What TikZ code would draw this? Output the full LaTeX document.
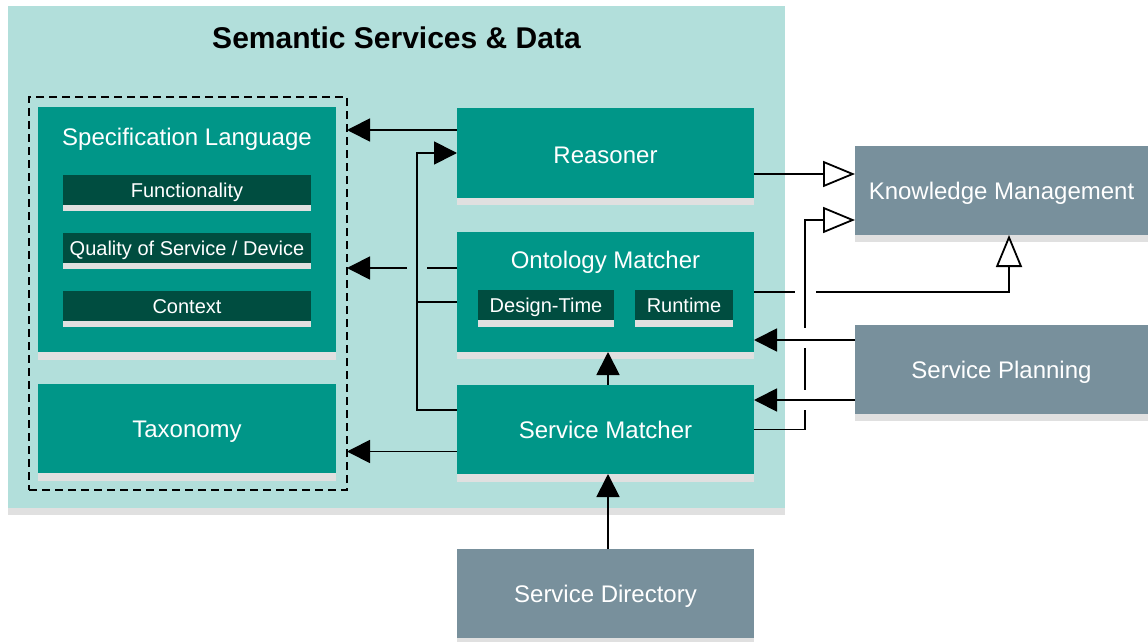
\documentclass[tikz,border=0pt]{standalone}
\usepackage{fontspec}
\setmainfont{Liberation Sans}
\usetikzlibrary{arrows.meta}
\definecolor{bgteal}{HTML}{B2DFDB}
\definecolor{boxteal}{HTML}{009688}
\definecolor{deepgreen}{HTML}{004D40}
\definecolor{slate}{HTML}{78909C}
\definecolor{stripgray}{HTML}{E0E0E0}

\begin{document}
\begin{tikzpicture}[x=1pt,y=-1pt,
  base/.style={inner sep=0pt, outer sep=0pt, text=white, text depth=0pt},
  bigtext/.style={font=\fontsize{24}{28}\selectfont, text height=17.2pt},
  smalltext/.style={font=\fontsize{20}{24}\selectfont, text height=14.3pt},
  tealbox/.style={base, bigtext, fill=boxteal},
  slatebox/.style={base, bigtext, fill=slate},
  subbox/.style={base, smalltext, fill=deepgreen},
  boxtitle/.style={base, bigtext},
  conn/.style={draw=black, line width=1.8pt},
  fa/.style={conn, -{Triangle[length=23pt,width=23pt]}},
  oa/.style={conn, -{Triangle[open,length=32pt,width=26pt,fill=white]}},
]
\useasboundingbox (0,0) rectangle (1148,642);

% container with its shadow strip
\fill[stripgray] (8,508) rectangle (785,515);
\node[inner sep=0pt, outer sep=0pt, fill=bgteal, minimum width=777pt, minimum height=502pt] (bg) at (396.5,257) {};
\node[font=\fontsize{30}{34}\selectfont\bfseries, inner sep=0pt, text height=21.5pt, text depth=0pt] (title) at (396.5,38) {Semantic Services \& Data};

% left column
\node[inner sep=0pt, outer sep=0pt, draw=black, line width=1.8pt, dash pattern=on 8pt off 5pt,
      minimum width=318pt, minimum height=393pt] (specgroup) at (188,293.5) {};

\node[tealbox, minimum width=298pt, minimum height=245pt] (spec) at (187,229.5) {};
\fill[stripgray] (spec.south west) rectangle ([yshift=-8pt]spec.south east);
\node[boxtitle] (spectitle) at (187,137) {Specification Language};

\node[subbox, minimum width=248pt, minimum height=30pt] (func) at (187,190) {Functionality};
\fill[stripgray] (func.south west) rectangle ([yshift=-6pt]func.south east);
\node[subbox, minimum width=248pt, minimum height=30pt] (qos) at (187,248) {Quality of Service / Device};
\fill[stripgray] (qos.south west) rectangle ([yshift=-6pt]qos.south east);
\node[subbox, minimum width=248pt, minimum height=30pt] (ctx) at (187,306) {Context};
\fill[stripgray] (ctx.south west) rectangle ([yshift=-6pt]ctx.south east);

\node[tealbox, minimum width=298pt, minimum height=89pt] (tax) at (187,428.5) {Taxonomy};
\fill[stripgray] (tax.south west) rectangle ([yshift=-8pt]tax.south east);

% middle column
\node[tealbox, minimum width=297pt, minimum height=90pt] (reasoner) at (605.5,153) {};
\fill[stripgray] (reasoner.south west) rectangle ([yshift=-7pt]reasoner.south east);
\node[boxtitle] (reasonertext) at (605.5,155) {Reasoner};

\node[tealbox, minimum width=297pt, minimum height=120pt] (onto) at (605.5,292) {};
\fill[stripgray] (onto.south west) rectangle ([yshift=-7pt]onto.south east);
\node[boxtitle] (ontotitle) at (605.5,260) {Ontology Matcher};
\node[subbox, minimum width=136pt, minimum height=30pt] (design) at (546,305) {Design-Time};
\fill[stripgray] (design.south west) rectangle ([yshift=-7pt]design.south east);
\node[subbox, minimum width=98pt, minimum height=30pt] (runtime) at (684,305) {Runtime};
\fill[stripgray] (runtime.south west) rectangle ([yshift=-7pt]runtime.south east);

\node[tealbox, minimum width=297pt, minimum height=89pt] (matcher) at (605.5,429.5) {Service Matcher};
\fill[stripgray] (matcher.south west) rectangle ([yshift=-8pt]matcher.south east);

% external services
\node[slatebox, minimum width=297pt, minimum height=89pt] (directory) at (605.5,593.5) {Service Directory};
\fill[stripgray] (directory.south west) rectangle ([yshift=-6pt]directory.south east);

\node[slatebox, minimum width=293pt, minimum height=89pt] (km) at (1001.5,190.5) {Knowledge Management};
\fill[stripgray] (km.south west) rectangle ([yshift=-7pt]km.south east);

\node[slatebox, minimum width=293pt, minimum height=89pt] (planning) at (1001.5,369.5) {Service Planning};
\fill[stripgray] (planning.south west) rectangle ([yshift=-7pt]planning.south east);

% attachment points
\coordinate (r1) at ([yshift=-22pt]reasoner.north west);
\coordinate (r2) at ([yshift=-21pt]reasoner.east);
\coordinate (o1) at ([yshift=24pt]onto.west);
\coordinate (o2) at ([yshift=-10pt]onto.west);
\coordinate (m1) at ([yshift=19.5pt]matcher.west);
\coordinate (m2) at ([yshift=-22pt]matcher.west);
\coordinate (k1) at ([yshift=-29.5pt]km.west);
\coordinate (k2) at ([xshift=7.5pt]km.south);
\coordinate (p1) at ([yshift=29.5pt]planning.west);
\coordinate (p2) at ([yshift=-30.5pt]planning.west);
\coordinate (jx) at ([xshift=51pt]matcher.east);
\coordinate (up1) at ([xshift=2.5pt]matcher.north);
\coordinate (up2) at ([xshift=2.5pt]directory.north);

% connectors inside the container
\draw[fa] (r1) -- (specgroup.east |- r1);
\draw[conn] (o1) -- ([xshift=-30pt]o1);
\draw[fa] ([xshift=-50pt]o1) -- (specgroup.east |- o1);
\draw[fa] (m1) -- ++(-40,0) |- (reasoner.west);
\draw[conn] (o2) -- ++(-40,0);
\draw[fa] (m2) -- (specgroup.east |- m2);
\draw[fa] (up1) -- (up1 |- onto.south);
\draw[fa] (up2) -- (up2 |- matcher.south);

% connectors to and from the outside
\draw[oa] (r2) -- (km.west |- r2);
\draw[conn] (onto.east) -- ++(41,0);
\draw[oa] ([xshift=62pt]onto.east) -| (k2);
\draw[conn] (matcher.east) -- (jx) -- ([yshift=20pt]jx);
\draw[conn] ([yshift=40pt]jx) -- ([yshift=82pt]jx);
\draw[oa] ([yshift=102pt]jx) |- (k1);
\draw[fa] (p1) -- (onto.east |- p1);
\draw[fa] (p2) -- (matcher.east |- p2);
\end{tikzpicture}
\end{document}
